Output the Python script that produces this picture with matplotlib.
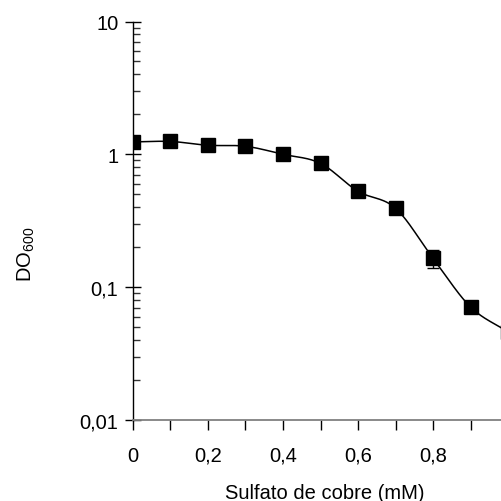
import numpy as np
import matplotlib
matplotlib.use("Agg")
import matplotlib.pyplot as plt
from matplotlib.ticker import FixedLocator, LogLocator, NullFormatter

plt.rcParams['font.family'] = ['Liberation Sans', 'DejaVu Sans']
plt.rcParams['mathtext.fontset'] = 'custom'
plt.rcParams['mathtext.rm'] = 'Liberation Sans'
plt.rcParams['mathtext.it'] = 'Liberation Sans'

# Data
concentration = [0.0, 0.1, 0.2, 0.3, 0.4, 0.5, 0.6, 0.7, 0.8, 0.9, 1.0]
od600 = [1.24, 1.25, 1.17, 1.15, 1.00, 0.855, 0.527, 0.393, 0.165, 0.071, 0.046]
od_err = [0.02, 0.03, 0.02, 0.02, 0.02, 0.02, 0.02, 0.02, 0.026, 0.004, 0.003]

x_ticks = [0.0, 0.2, 0.4, 0.6, 0.8, 1.0]
x_ticklabels = ['0', '0,2', '0,4', '0,6', '0,8', '1']
y_ticks = [0.01, 0.1, 1, 10]
y_ticklabels = ['0,01', '0,1', '1', '10']

FS = 14.5

fig = plt.figure(figsize=(5.02, 5.02), dpi=100)
ax = fig.add_axes([133/502, 81/502, 375/502, 398.5/502])

# smooth connecting curve (Catmull-Rom in x / log10(y) space)
xs = np.asarray(concentration)
ly = np.log10(np.asarray(od600))
px = np.concatenate([[2*xs[0]-xs[1]], xs, [2*xs[-1]-xs[-2]]])
py = np.concatenate([[2*ly[0]-ly[1]], ly, [2*ly[-1]-ly[-2]]])
cx, cy = [], []
t = np.linspace(0, 1, 30)
for i in range(1, len(px)-2):
    for arr, out in ((px, cx), (py, cy)):
        p0, p1, p2, p3 = arr[i-1], arr[i], arr[i+1], arr[i+2]
        out.extend(0.5*((2*p1) + (-p0+p2)*t + (2*p0-5*p1+4*p2-p3)*t**2 + (-p0+3*p1-3*p2+p3)*t**3))
ax.plot(cx, 10**np.asarray(cy), color='black', lw=1.1, zorder=2)

ax.errorbar(concentration, od600, yerr=od_err, fmt='none', ecolor='black',
            elinewidth=1.0, capsize=4.5, capthick=1.0, zorder=3)
ax.plot(concentration, od600, 's', color='black', markersize=9.5, zorder=4)

ax.set_yscale('log')
ax.set_ylim(0.01, 10)
ax.set_xlim(0, 1.0)

ax.set_yticks(y_ticks)
ax.set_yticklabels(y_ticklabels, fontsize=FS)
ax.yaxis.set_minor_locator(LogLocator(base=10, subs=np.arange(2, 10)))
ax.yaxis.set_minor_formatter(NullFormatter())
ax.tick_params(axis='y', which='major', direction='inout', length=11, width=1.0,
               pad=5.0, color='black')
ax.tick_params(axis='y', which='minor', direction='in', length=5, width=1.0,
               color='#333333')

ax.set_xticks(x_ticks)
ax.set_xticklabels(x_ticklabels, fontsize=FS)
ax.xaxis.set_minor_locator(FixedLocator([0.1, 0.3, 0.5, 0.7, 0.9]))
ax.tick_params(axis='x', which='both', direction='out', length=7, width=1.0,
               pad=11.5, color='black')

for s in ['top', 'right']:
    ax.spines[s].set_visible(False)
ax.spines['left'].set_color('black')
ax.spines['left'].set_linewidth(1.0)
ax.spines['bottom'].set_color('#808080')
ax.spines['bottom'].set_linewidth(1.3)

fig.text(325/502, 8/502, 'Sulfato de cobre (mM)', fontsize=FS, ha='center', va='center')
fig.text(26/502, 248/502, r'DO$_{\mathrm{600}}$', fontsize=FS, rotation=90,
         ha='center', va='center')

fig.savefig('out.png', dpi=100)
